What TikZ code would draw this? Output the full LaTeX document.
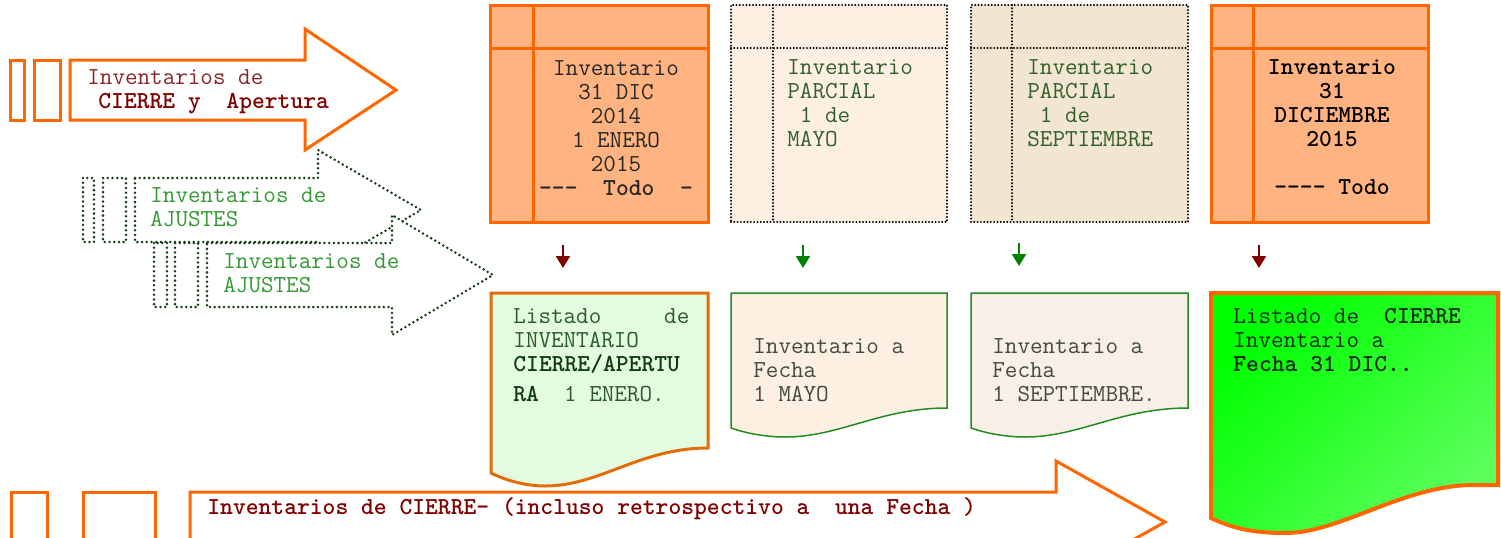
\documentclass[tikz,border=0pt]{standalone}
\usetikzlibrary{arrows.meta,calc}
\definecolor{org}{HTML}{FF6600}
\definecolor{orgfill}{HTML}{FFB380}
\definecolor{dred}{HTML}{800000}
\definecolor{mred}{HTML}{8B2525}
\definecolor{dgreen}{HTML}{123D12}
\definecolor{lgreen}{HTML}{339933}
\definecolor{cgreen}{HTML}{2F5F2F}
\definecolor{peach}{HTML}{FDF0E3}
\definecolor{beige}{HTML}{F2E6D0}
\definecolor{beigeb}{HTML}{F8F0E6}
\definecolor{mint}{HTML}{E3FCDF}
\definecolor{dorg}{HTML}{E36C0A}
\definecolor{bgreen}{HTML}{228B22}
\definecolor{gtxt}{HTML}{404A40}
\definecolor{doctxt}{HTML}{2A5A2A}
\definecolor{doctxtb}{HTML}{0F3A0F}
\definecolor{gA}{HTML}{00FF00}
\definecolor{gB}{HTML}{5CFF5C}
\definecolor{arrG}{HTML}{008000}
\newcommand\tr{\rule{0pt}{9pt}}
\begin{document}
\begin{tikzpicture}[x=0.5pt,y=-0.5pt,
  font=\ttfamily\fontsize{12.2}{12}\selectfont,
  txt/.style={inner sep=0pt, anchor=north west, align=left},
  ctxt/.style={inner sep=0pt, anchor=north, align=center},
  orgline/.style={draw=org, line width=1.5pt},
  dotg/.style={draw=dgreen, fill=white, line width=1.4pt, line cap=round, dash pattern=on 0pt off 2.35pt},
  dotk/.style={draw=black, line width=1.1pt, line cap=round, dash pattern=on 0pt off 1.65pt},
  cardbox/.style={minimum height=108.5pt, anchor=north west, inner sep=0pt, outer sep=0pt},
  ocard/.style={cardbox, draw=org, fill=orgfill, line width=1.5pt},
  kcard/.style={cardbox, dotk},
  arrD/.style={-{Triangle[length=6pt,width=7pt]}, line width=1pt, draw=dred},
  arrV/.style={-{Triangle[length=6pt,width=7pt]}, line width=1pt, draw=arrG},
  gdoc/.style={draw=bgreen, line width=0.75pt}
]
\useasboundingbox (0,0) rectangle (1501,537);
\clip (0,0) rectangle (1501,537);

% ---------- top orange arrow
\draw[orgline, fill=white] (70,60) -- (305,60) -- (305,29) -- (396,90) -- (305,150) -- (305,120) -- (70,120) -- cycle;
\draw[orgline] (10,60) rectangle (24,120);
\draw[orgline] (34,60) rectangle (60,120);
\node[txt, text=mred] (ta) at (87,66) {\tr Inventarios de\\\hspace*{5.5pt}\textcolor{dred}{\textbf{CIERRE y~~Apertura}}};

% ---------- dotted arrows
\draw[dotg] (135,178) -- (318,178) -- (318,150) -- (421,210) -- (318,270) -- (318,242) -- (135,242) -- cycle;
\draw[dotg] (83,178) rectangle (94,242);
\draw[dotg] (103,178) rectangle (126,242);
\node[txt, text=lgreen] (da) at (150,184) {\tr Inventarios de\\AJUSTES};
\draw[dotg] (207,243) -- (392,243) -- (392,215) -- (493,275) -- (392,335) -- (392,307) -- (207,307) -- cycle;
\draw[dotg] (154,243) rectangle (167,307);
\draw[dotg] (175,243) rectangle (198,307);
\node[txt, text=lgreen] (db) at (223,250) {\tr Inventarios de\\AJUSTES};

% ---------- bottom orange arrow
\draw[orgline, fill=white] (190,492) -- (1056,492) -- (1056,461) -- (1165,522) -- (1056,583) -- (1056,552) -- (190,552) -- cycle;
\draw[orgline] (11,492) rectangle (47,560);
\draw[orgline] (83,492) rectangle (155,560);
\node[txt, text=dred] (ba) at (207,496) {\tr\textbf{Inventarios de CIERRE- (incluso retrospectivo a~~una Fecha )}};

% ---------- cards
\node[ocard, minimum width=109pt] (c1) at (490,5) {};
\draw[orgline] ($(c1.north west)+(43,0)$) -- ($(c1.south west)+(43,0)$);
\draw[orgline] ($(c1.north west)+(0,43)$) -- ($(c1.north east)+(0,43)$);
\node[ctxt, text=black!85] (c1t) at (616,57) {\tr Inventario\\31 DIC\\2014\\1 ENERO\\2015\\\textbf{-{}-{}-~~Todo~~-}};

\node[kcard, fill=peach, minimum width=108pt] (c2) at (731,5) {};
\draw[dotk] ($(c2.north west)+(42,0)$) -- ($(c2.south west)+(42,0)$);
\draw[dotk] ($(c2.north west)+(0,43)$) -- ($(c2.north east)+(0,43)$);
\node[txt, text=cgreen] (c2t) at (787,56) {\tr Inventario\\PARCIAL\\~1 de\\MAYO};

\node[kcard, fill=beige, minimum width=108.5pt] (c3) at (971,5) {};
\draw[dotk] ($(c3.north west)+(41,0)$) -- ($(c3.south west)+(41,0)$);
\draw[dotk] ($(c3.north west)+(0,43)$) -- ($(c3.north east)+(0,43)$);
\node[txt, text=cgreen] (c3t) at (1027,56) {\tr Inventario\\PARCIAL\\~1 de\\SEPTIEMBRE};

\node[ocard, minimum width=108.5pt] (c4) at (1211,5) {};
\draw[orgline] ($(c4.north west)+(42,0)$) -- ($(c4.south west)+(42,0)$);
\draw[orgline] ($(c4.north west)+(0,43)$) -- ($(c4.north east)+(0,43)$);
\node[ctxt, text=black, font=\ttfamily\bfseries\fontsize{12.2}{12}\selectfont] (c4t) at (1332,56) {\tr Inventario\\31\\DICIEMBRE\\2015\\ \\-{}-{}-{}-~Todo~};

% ---------- small arrows
\coordinate (a1s) at (563,245); \coordinate (a1e) at (563,268);
\coordinate (a2s) at (803,245); \coordinate (a2e) at (803,268);
\coordinate (a3s) at (1019,243); \coordinate (a3e) at (1019,266);
\coordinate (a4s) at (1259,245); \coordinate (a4e) at (1259,268);
\draw[arrD] (a1s) -- (a1e);
\draw[arrV] (a2s) -- (a2e);
\draw[arrV] (a3s) -- (a3e);
\draw[arrD] (a4s) -- (a4e);

% ---------- documents
\draw[draw=dorg, line width=1.5pt, fill=mint] (491,293) -- (708,293) -- (708,448) .. controls (640,448) and (600,486) .. (545,486) .. controls (525,486) and (505,480) .. (491,473) -- cycle;
\node[txt, text=doctxt] (d1t) at (513,305) {\tr Listado~~~~~de\\INVENTARIO\\\textcolor{doctxtb}{\textbf{CIERRE/APERTU}}\\[3pt]\textcolor{doctxtb}{\textbf{RA}}~~1 ENERO.};

\draw[gdoc, fill=peach] (731,293) -- (947,293) -- (947,408) .. controls (880,408) and (840,437) .. (785,437) .. controls (765,437) and (745,433) .. (731,428) -- cycle;
\node[txt, text=gtxt] (d2t) at (753,335) {\tr Inventario a\\Fecha\\1 MAYO};

\draw[gdoc, fill=beigeb] (971,293) -- (1188,293) -- (1188,408) .. controls (1120,408) and (1080,437) .. (1025,437) .. controls (1005,437) and (985,433) .. (971,428) -- cycle;
\node[txt, text=gtxt] (d3t) at (992,335) {\tr Inventario a\\Fecha\\1 SEPTIEMBRE.};

\draw[draw=org, line width=2pt, top color=gA, bottom color=gB, shading angle=45] (1211,293) -- (1498,293) -- (1498,485) -- (1470,485) .. controls (1400,487) and (1340,533) .. (1285,533) .. controls (1250,533) and (1230,527) .. (1211,518) -- cycle;
\node[txt, text=doctxtb!80!black] (d4t) at (1233,305) {\tr Listado de~~\textbf{CIERRE}\\Inventario a\\\textbf{Fecha 31 DIC..}};
\end{tikzpicture}
\end{document}
